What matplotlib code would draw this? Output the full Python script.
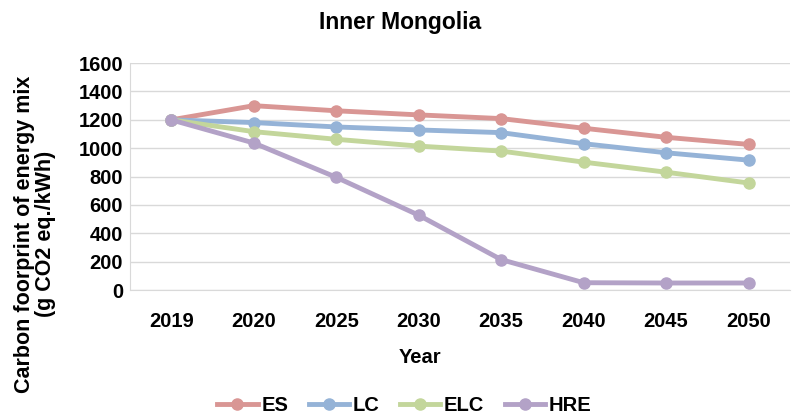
import matplotlib.pyplot as plt
import numpy as np

plt.rcParams['font.family'] = ['Liberation Sans', 'DejaVu Sans']

years = ['2019', '2020', '2025', '2030', '2035', '2040', '2045', '2050']
es = [1200, 1300, 1264, 1235, 1209, 1141, 1077, 1027]
lc = [1200, 1181, 1150, 1129, 1110, 1032, 968, 916]
elc = [1200, 1117, 1063, 1015, 980, 902, 831, 755]
hre = [1200, 1037, 795, 528, 215, 52, 50, 50]

series = [('ES', es, '#D99694'), ('LC', lc, '#95B3D7'),
          ('ELC', elc, '#C3D69B'), ('HRE', hre, '#B3A2C7')]

fig = plt.figure(figsize=(7.93, 4.18), dpi=100)
ax = fig.add_axes([0.164, 0.306, 0.832, 0.543])

x = np.arange(len(years))
for name, vals, col in series:
    ax.plot(x, vals, color=col, lw=3.5, marker='o', ms=8, label=name)

ax.set_xlim(-0.5, len(years) - 0.5)
ax.set_ylim(0, 1600)
ax.set_yticks(range(0, 1601, 200))
ax.set_xticks(x)
ax.set_xticklabels(years)
ax.yaxis.grid(True, color='#D9D9D9', lw=1)
ax.set_axisbelow(True)
for s in ['top', 'right']:
    ax.spines[s].set_visible(False)
ax.spines['left'].set_color('#D9D9D9')
ax.spines['bottom'].set_color('#D9D9D9')
ax.tick_params(length=0, labelsize=14.5, pad=5)
ax.tick_params(axis='x', pad=16)
for lab in ax.get_xticklabels() + ax.get_yticklabels():
    lab.set_fontweight('bold')

fig.text(0.505, 0.945, 'Inner Mongolia', ha='center', va='center',
         fontsize=16.5, fontweight='bold')
ax.set_xlabel('Year', fontsize=14.5, fontweight='bold')
ax.xaxis.set_label_coords(0.44, -0.255)
ax.set_ylabel('Carbon foorprint of energy mix\n(g CO2 eq./kWh)', fontsize=15.5,
              fontweight='bold', linespacing=1.0)
ax.yaxis.set_label_coords(-0.112, 0.247)

fig.legend(loc='center', bbox_to_anchor=(0.51, 0.03), ncol=4, frameon=False,
           prop={'weight': 'bold', 'size': 14.5}, handlelength=2.0, columnspacing=1.0,
           handletextpad=0.2)

fig.savefig('out.png', dpi=100)
